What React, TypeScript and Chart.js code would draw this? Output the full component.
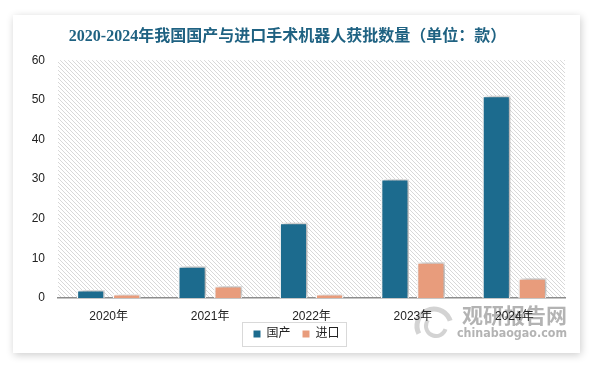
import React, { useEffect, useRef } from "react";
import { Chart, registerables } from "chart.js";

Chart.register(...registerables);

const categories = ["2020年", "2021年", "2022年", "2023年", "2024年"];
const domesticValues = [2, 8, 19, 30, 51];
const importValues = [1, 3, 1, 9, 5];
const seriesNames = ["国产", "进口"];
const yTicks = [0, 10, 20, 30, 40, 50, 60];
const titleText = "2020-2024年我国国产与进口手术机器人获批数量（单位：款）";

const BLUE = "#1c6b8e";
const ORANGE = "#e89c7c";
const FONT = "'Liberation Sans', 'Noto Sans CJK SC', sans-serif";

function makeHatch(ctx: CanvasRenderingContext2D) {
  const c = document.createElement("canvas");
  const s = 4;
  c.width = s;
  c.height = s;
  const g = c.getContext("2d")!;
  g.fillStyle = "#ffffff";
  g.fillRect(0, 0, s, s);
  g.fillStyle = "#d8d8d8";
  for (let i = 0; i < s; i++) {
    g.fillRect(i, i, 1, 1);
  }
  return ctx.createPattern(c, "repeat");
}

const decorPlugin = {
  id: "decor",
  afterLayout(chart: any) {
    const t = chart.titleBlock;
    if (t) {
      t.left -= 9;
      t.right -= 9;
    }
    const lg = chart.legend;
    if (lg) {
      lg.top -= 8;
      lg.bottom -= 8;
    }
  },
  beforeDraw(chart: any) {
    const { ctx, chartArea } = chart;
    ctx.save();
    const pat = makeHatch(ctx);
    if (pat) {
      ctx.fillStyle = pat;
      ctx.fillRect(chartArea.left, chartArea.top, chartArea.right - chartArea.left, chartArea.bottom - chartArea.top);
    }
    // watermark
    ctx.globalAlpha = 0.75;
    ctx.strokeStyle = "#c4c4c4";
    ctx.lineWidth = 5;
    ctx.beginPath();
    ctx.arc(434, 326, 17, Math.PI * 0.85, Math.PI * 1.9);
    ctx.stroke();
    ctx.lineWidth = 4;
    ctx.beginPath();
    ctx.arc(436, 326, 10, Math.PI * 0.1, Math.PI * 1.2);
    ctx.stroke();
    ctx.fillStyle = "#9a9a9a";
    ctx.font = "bold 21px 'Noto Sans CJK SC', sans-serif";
    ctx.textBaseline = "middle";
    ctx.textAlign = "left";
    ctx.fillText("观研报告网", 462, 315);
    ctx.font = "bold 13px 'DejaVu Sans', sans-serif";
    const w = ctx.measureText("chinabaogao.com").width;
    ctx.save();
    ctx.translate(457, 334);
    ctx.scale(110 / w, 1);
    ctx.fillText("chinabaogao.com", 0, 0);
    ctx.restore();
    ctx.restore();
  },
  beforeDatasetsDraw(chart: any) {
    const ctx = chart.ctx;
    ctx.save();
    ctx.shadowColor = "rgba(0,0,0,0.35)";
    ctx.shadowBlur = 6;
    ctx.shadowOffsetX = 3;
    ctx.shadowOffsetY = -1;
  },
  afterDatasetsDraw(chart: any) {
    chart.ctx.restore();
  },
  afterDraw(chart: any) {
    const lg = chart.legend;
    if (!lg || !lg.legendHitBoxes || !lg.legendHitBoxes.length) return;
    const hb = lg.legendHitBoxes;
    let minX = Infinity, maxX = -Infinity, cy = 0;
    hb.forEach((h: any) => {
      minX = Math.min(minX, h.left);
      maxX = Math.max(maxX, h.left + h.width);
      cy = h.top + h.height / 2;
    });
    const ctx = chart.ctx;
    ctx.save();
    ctx.strokeStyle = "#d9d9d9";
    ctx.lineWidth = 1;
    ctx.strokeRect(Math.round(minX - 11) + 0.5, Math.round(cy - 12) + 0.5, Math.round(maxX - minX + 18), 24);
    ctx.restore();
  },
};

export default function App() {
  const ref = useRef<HTMLCanvasElement | null>(null);
  useEffect(() => {
    if (!ref.current) return;
    const chart = new Chart(ref.current, {
      type: "bar",
      data: {
        labels: categories,
        datasets: [
          {
            label: seriesNames[0],
            data: domesticValues,
            backgroundColor: BLUE,
            borderColor: "#ffffff",
            borderWidth: 1.5,
            categoryPercentage: 0.71,
            barPercentage: 0.78,
          },
          {
            label: seriesNames[1],
            data: importValues,
            backgroundColor: ORANGE,
            borderColor: "#ffffff",
            borderWidth: 1.5,
            categoryPercentage: 0.71,
            barPercentage: 0.78,
          },
        ],
      },
      options: {
        responsive: false,
        animation: false,
        devicePixelRatio: 1,
        layout: { padding: { left: 28, right: 29, top: 0, bottom: 8 } },
        plugins: {
          title: {
            display: true,
            text: titleText,
            color: "#1f6282",
            font: { family: "'Liberation Serif', 'Noto Sans CJK SC', serif", size: 16, weight: "bold" },
            padding: { top: 27, bottom: 14 },
          },
          legend: {
            display: true,
            position: "bottom",
            labels: {
              boxWidth: 7,
              boxHeight: 7,
              padding: 12,
              color: "#222222",
              font: { family: FONT, size: 12 },
              generateLabels: (c: any) =>
                (Chart.defaults.plugins.legend.labels as any).generateLabels(c).map((l: any) => ({
                  ...l,
                  lineWidth: 0,
                  strokeStyle: l.fillStyle,
                })),
            },
          },
          tooltip: { enabled: false },
        },
        scales: {
          x: {
            grid: { display: false, drawTicks: false },
            border: { display: true, color: "#8c8c8c", width: 1.5 },
            ticks: { color: "#222222", font: { family: FONT, size: 12 }, padding: 11 },
            afterFit: (s: any) => {
              s.height = 26;
            },
          },
          y: {
            min: 0,
            max: 60,
            afterBuildTicks: (s: any) => {
              s.ticks = yTicks.map((v) => ({ value: v }));
            },
            grid: { display: false, drawTicks: false },
            border: { display: false },
            ticks: { color: "#222222", font: { family: FONT, size: 12 }, padding: 13 },
            afterFit: (s: any) => {
              s.width = 30;
            },
          },
        },
      },
      plugins: [decorPlugin],
    });
    return () => chart.destroy();
  }, []);
  return (
    <div style={{ position: "absolute", left: 0, top: 0, width: 594, height: 366, background: "#ffffff", overflow: "hidden" }}>
      <div
        style={{
          position: "absolute",
          left: 13,
          top: 15,
          width: 567,
          height: 338,
          background: "#ffffff",
          boxShadow: "1px 2px 8px rgba(0,0,0,0.2)",
        }}
      />
      <canvas ref={ref} width={594} height={366} style={{ position: "absolute", left: 0, top: 0, width: 594, height: 366 }} />
    </div>
  );
}
